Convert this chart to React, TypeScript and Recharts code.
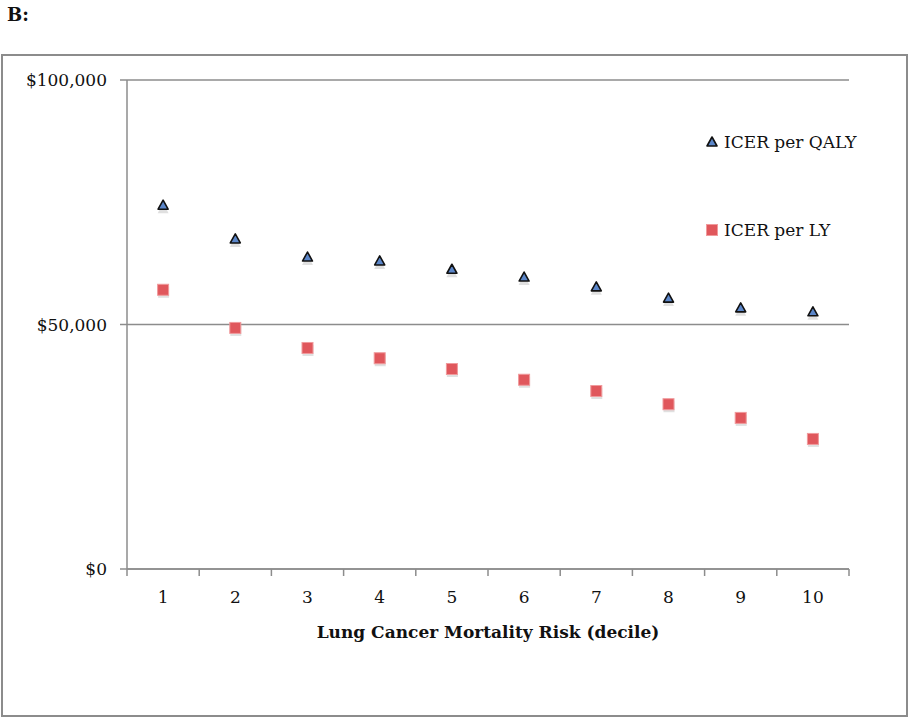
import React from 'react';
import { ScatterChart, Scatter, XAxis, YAxis, CartesianGrid, Label } from 'recharts';

const deciles = [1, 2, 3, 4, 5, 6, 7, 8, 9, 10];
const icerQaly = [74400, 67500, 63800, 63000, 61300, 59700, 57700, 55400, 53400, 52600];
const icerLy = [57100, 49300, 45200, 43100, 40900, 38700, 36400, 33700, 30900, 26600];
const yTicks = [0, 50000, 100000];
// ticks au centre des déciles + bornes entre les déciles
const xTicks = [0.5, 1, 1.5, 2, 2.5, 3, 3.5, 4, 4.5, 5, 5.5, 6, 6.5, 7, 7.5, 8, 8.5, 9, 9.5, 10, 10.5];

const qalyData = deciles.map((d, i) => ({ decile: d, value: icerQaly[i] }));
const lyData = deciles.map((d, i) => ({ decile: d, value: icerLy[i] }));

const FONT = '"DejaVu Serif", serif';
const GREY = '#8c8c8c';

const Triangle = (props: any) => {
  const { cx, cy } = props;
  return (
    <g>
      <path d={`M${cx},${cy - 4} L${cx + 5.5},${cy + 6} L${cx - 5.5},${cy + 6} Z`} fill="#ccc" opacity={0.6} transform="translate(0,2)" />
      <path d={`M${cx},${cy - 5} L${cx + 5},${cy + 4} L${cx - 5},${cy + 4} Z`} fill="#5b86c9" stroke="#111" strokeWidth={1.6} strokeLinejoin="round" />
    </g>
  );
};

const Square = (props: any) => {
  const { cx, cy } = props;
  return (
    <g>
      <rect x={cx - 5} y={cy - 3} width={11} height={11} fill="#ccc" opacity={0.6} />
      <rect x={cx - 5.5} y={cy - 5.5} width={11} height={11} fill="#e0575c" stroke="#f09a9c" strokeWidth={1} />
    </g>
  );
};

const DecileTick = (props: any) => {
  const { x, y, payload } = props;
  const v = payload.value as number;
  if (!Number.isInteger(v)) {
    return <line x1={x} y1={y} x2={x} y2={y + 7} stroke={GREY} strokeWidth={1.5} />;
  }
  return (
    <text x={x} y={y + 34} textAnchor="middle" fontFamily={FONT} fontSize={17} fill="#111">
      {v}
    </text>
  );
};

const App: React.FC = () => (
  <div style={{ position: 'absolute', left: 0, top: 0, width: 908, height: 718, background: '#fff' }}>
    <div style={{ position: 'absolute', left: 7, top: 4, fontFamily: FONT, fontWeight: 'bold', fontSize: 18, color: '#111' }}>B:</div>
    <div style={{ position: 'absolute', left: 1, top: 54, width: 903, height: 659, border: `2px solid ${GREY}` }} />
    <div style={{ position: 'absolute', left: 0, top: 0 }}>
      <ScatterChart width={908} height={718} margin={{ top: 80, right: 59, left: 17, bottom: 74 }}>
        <CartesianGrid horizontal vertical={false} stroke={GREY} strokeWidth={1.5} />
        <XAxis
          dataKey="decile"
          type="number"
          domain={[0.5, 10.5]}
          ticks={xTicks}
          interval={0}
          tick={<DecileTick />}
          tickLine={false}
          tickSize={0}
          tickMargin={0}
          height={75}
          stroke={GREY}
          strokeWidth={1.5}
        >
          <Label value="Lung Cancer Mortality Risk (decile)" position="insideBottom" offset={6} fontFamily={FONT} fontWeight="bold" fontSize={17} fill="#111" />
        </XAxis>
        <YAxis
          dataKey="value"
          type="number"
          domain={[0, 100000]}
          ticks={yTicks}
          interval={0}
          width={110}
          tickSize={7}
          tickMargin={13}
          stroke={GREY}
          strokeWidth={1.5}
          tick={{ fontFamily: FONT, fontSize: 17, fill: '#111' }}
          tickFormatter={(v: number) => `$${v.toLocaleString('en-US')}`}
        />
        <Scatter name="ICER per QALY" data={qalyData} shape={<Triangle />} isAnimationActive={false} />
        <Scatter name="ICER per LY" data={lyData} shape={<Square />} isAnimationActive={false} />
      </ScatterChart>
    </div>
    <div style={{ position: 'absolute', left: 705, top: 129, fontFamily: FONT, fontSize: 17, color: '#111' }}>
      <div style={{ display: 'flex', alignItems: 'center', height: 26 }}>
        <svg width={14} height={14} style={{ marginRight: 5 }}>
          <path d="M7,2 L12,11 L2,11 Z" fill="#5b86c9" stroke="#111" strokeWidth={1.6} strokeLinejoin="round" />
        </svg>
        ICER per QALY
      </div>
      <div style={{ display: 'flex', alignItems: 'center', height: 26, marginTop: 62 }}>
        <svg width={14} height={14} style={{ marginRight: 5 }}>
          <rect x={1.5} y={1.5} width={11} height={11} fill="#e0575c" stroke="#f09a9c" strokeWidth={1} />
        </svg>
        ICER per LY
      </div>
    </div>
  </div>
);

export default App;
